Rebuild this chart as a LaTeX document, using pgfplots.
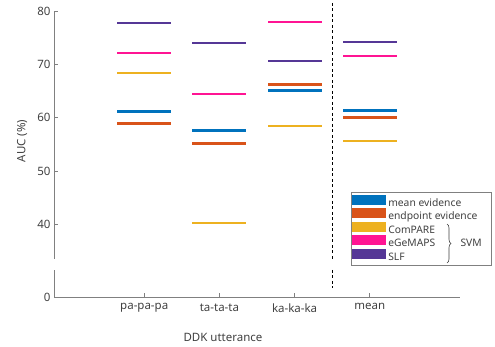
\documentclass[border=0pt]{standalone}
\usepackage{pgfplots}
\pgfplotsset{compat=1.18}
\usepackage{pgfplotstable}
\usepackage{fontspec}
\setmainfont{Noto Sans}
\usetikzlibrary{decorations.pathreplacing}
\definecolor{cblue}{RGB}{0,114,189}
\definecolor{corange}{RGB}{217,83,25}
\definecolor{cyellow}{RGB}{237,177,32}
\definecolor{cpink}{RGB}{255,20,147}
\definecolor{cpurple}{RGB}{85,55,150}
\definecolor{axgray}{RGB}{128,128,128}
\definecolor{txtgray}{RGB}{64,64,64}

\pgfplotstableread{
x y
1 61.1
2 57.6
3 65.1
4 61.3
}\meanev
\pgfplotstableread{
x y
1 58.9
2 55.2
3 66.2
4 60.1
}\endev
\pgfplotstableread{
x y
1 68.4
2 40.2
3 58.5
4 55.7
}\compare
\pgfplotstableread{
x y
1 72.2
2 64.4
3 78.0
4 71.6
}\egemaps
\pgfplotstableread{
x y
1 77.7
2 74.0
3 70.7
4 74.1
}\slf

\pgfplotsset{
  segstyle/.style 2 args={draw=none, mark=none, color=#1,
    error bars/.cd, x dir=both, x fixed=0.36, error mark=none,
    error bar style={line width=#2, draw=#1, solid, line cap=butt}},
}

\begin{document}
\begin{tikzpicture}[font=\fontsize{11.5pt}{13pt}\selectfont]
\path[use as bounding box] (0,0) rectangle (495pt,347pt);
% upper axis
\begin{axis}[
  at={(54pt,88pt)}, anchor=south west,
  scale only axis, width=406pt, height=248pt,
  xmin=-0.2, xmax=5.2, ymin=33.5, ymax=80,
  axis x line=none, axis y line*=left,
  axis line style={axgray, line width=0.6pt},
  ytick={40,50,60,70,80},
  tick align=inside, major tick length=4pt,
  tick style={axgray, line width=0.6pt},
  y axis line style={-},
  yticklabel style={txtgray},
  /pgf/number format/assume math mode=true,
  clip=false,
  legend style={at={(0.7315,0.27)}, anchor=north west, draw=axgray, line width=0.6pt,
    font=\fontsize{10.3pt}{11pt}\selectfont, text=txtgray,
    row sep=0pt, inner xsep=1pt, inner ysep=2.5pt,
    nodes={inner ysep=0.3pt, inner xsep=2pt, text height=7.5pt, text depth=2pt},
    legend cell align=left},
  legend image code/.code={\fill[#1] (0pt,-1.5pt) rectangle (34pt,8.5pt);},
]
\addplot[segstyle={cblue}{3pt}] table {\meanev};
\addlegendentry{\makebox[100pt][l]{mean evidence}}
\addplot[segstyle={corange}{3pt}] table {\endev};
\addlegendentry{endpoint evidence}
\addplot[segstyle={cyellow}{2pt}] table {\compare};
\addlegendentry{ComPARE}
\addplot[segstyle={cpink}{2pt}] table {\egemaps};
\addlegendentry{eGeMAPS}
\addplot[segstyle={cpurple}{2pt}] table {\slf};
\addlegendentry{SLF}
\draw[black, dash pattern=on 3pt off 2.5pt, line width=0.9pt] (axis cs:3.5,81.5) -- (axis cs:3.5,33.5);
\end{axis}
% brace and SVM label
\draw[decorate, decoration={brace, amplitude=4pt}, txtgray, line width=0.6pt]
  (447pt,123pt) -- (447pt,84pt);
\node[anchor=west, text=txtgray, font=\fontsize{10.3pt}{11pt}\selectfont] at (457pt,104pt) {SVM};
% lower axis
\begin{axis}[
  at={(54pt,50pt)}, anchor=south west,
  scale only axis, width=406pt, height=27pt,
  xmin=-0.2, xmax=5.2, ymin=0, ymax=5,
  axis x line*=bottom, axis y line*=left,
  axis line style={axgray, line width=0.6pt, -},
  ytick={0}, yticklabel style={txtgray},
  xtick={1,2,3,4},
  xticklabels={pa-pa-pa, ta-ta-ta, ka-ka-ka, mean},
  xticklabel style={txtgray, yshift=-3pt},
  tick align=inside, major tick length=4pt,
  tick style={axgray, line width=0.6pt},
  /pgf/number format/assume math mode=true,
  clip=false,
]
\addplot[draw=none, forget plot] coordinates {(1,0)};
\draw[black, dash pattern=on 3pt off 2.5pt, line width=0.9pt] (axis cs:3.5,5) -- (axis cs:3.5,1.6);
\end{axis}
\node[rotate=90, text=txtgray] at (22pt,206pt) {AUC (\%)};
\node[text=txtgray] at (223pt,10pt) {DDK utterance};
\end{tikzpicture}
\end{document}
